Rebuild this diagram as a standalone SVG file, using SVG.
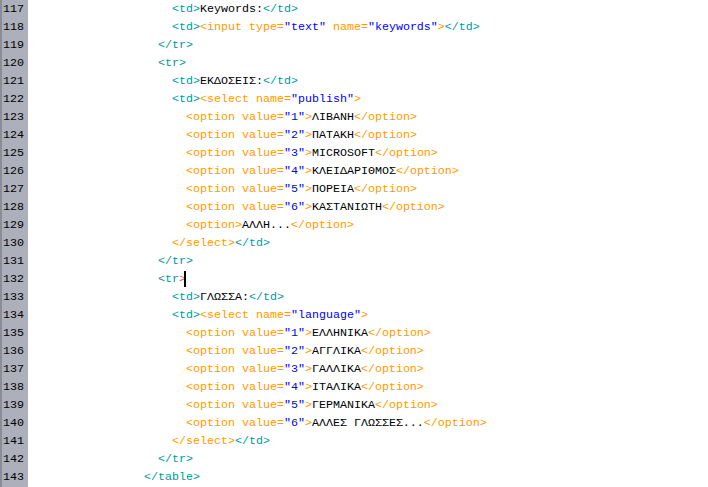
<svg xmlns="http://www.w3.org/2000/svg" width="708" height="487" viewBox="0 0 708 487">
<style>
text{font-family:"Liberation Mono","Courier New",monospace;font-size:11.67px;white-space:pre}
.n{fill:#000}
.t{fill:#009a9a}
.o{fill:#ff9900}
.b{fill:#0000ff}
.k{fill:#000}
.r{fill:#ee5555}
</style>
<rect x="0" y="0" width="708" height="487" fill="#ffffff"/>
<g id="gutter">
<rect x="0" y="0" width="28" height="487" fill="#adafbb"/>
<rect x="0" y="0" width="2" height="487" fill="#8a8c96"/>
<g class="n">
<text x="3" y="12">117</text>
<text x="3" y="30">118</text>
<text x="3" y="48">119</text>
<text x="3" y="66">120</text>
<text x="3" y="84">121</text>
<text x="3" y="102">122</text>
<text x="3" y="120">123</text>
<text x="3" y="138">124</text>
<text x="3" y="156">125</text>
<text x="3" y="174">126</text>
<text x="3" y="192">127</text>
<text x="3" y="210">128</text>
<text x="3" y="228">129</text>
<text x="3" y="246">130</text>
<text x="3" y="264">131</text>
<text x="3" y="282">132</text>
<text x="3" y="300">133</text>
<text x="3" y="318">134</text>
<text x="3" y="336">135</text>
<text x="3" y="354">136</text>
<text x="3" y="372">137</text>
<text x="3" y="390">138</text>
<text x="3" y="408">139</text>
<text x="3" y="426">140</text>
<text x="3" y="444">141</text>
<text x="3" y="462">142</text>
<text x="3" y="480">143</text>
</g>
</g>
<g id="code" xml:space="preserve">
<text x="172" y="12"><tspan class="t">&lt;td&gt;</tspan><tspan class="k">Keywords:</tspan><tspan class="t">&lt;/td&gt;</tspan></text>
<text x="172" y="30"><tspan class="t">&lt;td&gt;</tspan><tspan class="o">&lt;input type=</tspan><tspan class="b">"text"</tspan><tspan class="o"> name=</tspan><tspan class="b">"keywords"</tspan><tspan class="o">&gt;</tspan><tspan class="t">&lt;/td&gt;</tspan></text>
<text x="158" y="48" class="t">&lt;/tr&gt;</text>
<text x="158" y="66" class="t">&lt;tr&gt;</text>
<text x="172" y="84"><tspan class="t">&lt;td&gt;</tspan><tspan class="k">ΕΚΔΟΣΕΙΣ:</tspan><tspan class="t">&lt;/td&gt;</tspan></text>
<text x="172" y="102"><tspan class="t">&lt;td&gt;</tspan><tspan class="o">&lt;select name=</tspan><tspan class="b">"publish"</tspan><tspan class="o">&gt;</tspan></text>
<text x="186" y="120"><tspan class="o">&lt;option value=</tspan><tspan class="b">"1"</tspan><tspan class="o">&gt;</tspan><tspan class="k">ΛΙΒΑΝΗ</tspan><tspan class="o">&lt;/option&gt;</tspan></text>
<text x="186" y="138"><tspan class="o">&lt;option value=</tspan><tspan class="b">"2"</tspan><tspan class="o">&gt;</tspan><tspan class="k">ΠΑΤΑΚΗ</tspan><tspan class="o">&lt;/option&gt;</tspan></text>
<text x="186" y="156"><tspan class="o">&lt;option value=</tspan><tspan class="b">"3"</tspan><tspan class="o">&gt;</tspan><tspan class="k">MICROSOFT</tspan><tspan class="o">&lt;/option&gt;</tspan></text>
<text x="186" y="174"><tspan class="o">&lt;option value=</tspan><tspan class="b">"4"</tspan><tspan class="o">&gt;</tspan><tspan class="k">ΚΛΕΙΔΑΡΙΘΜΟΣ</tspan><tspan class="o">&lt;/option&gt;</tspan></text>
<text x="186" y="192"><tspan class="o">&lt;option value=</tspan><tspan class="b">"5"</tspan><tspan class="o">&gt;</tspan><tspan class="k">ΠΟΡΕΙΑ</tspan><tspan class="o">&lt;/option&gt;</tspan></text>
<text x="186" y="210"><tspan class="o">&lt;option value=</tspan><tspan class="b">"6"</tspan><tspan class="o">&gt;</tspan><tspan class="k">ΚΑΣΤΑΝΙΩΤΗ</tspan><tspan class="o">&lt;/option&gt;</tspan></text>
<text x="186" y="228"><tspan class="o">&lt;option&gt;</tspan><tspan class="k">ΑΛΛΗ...</tspan><tspan class="o">&lt;/option&gt;</tspan></text>
<text x="172" y="246"><tspan class="o">&lt;/select&gt;</tspan><tspan class="t">&lt;/td&gt;</tspan></text>
<text x="158" y="264" class="t">&lt;/tr&gt;</text>
<text x="158" y="282"><tspan class="t">&lt;tr</tspan><tspan class="r">&gt;</tspan></text>
<text x="172" y="300"><tspan class="t">&lt;td&gt;</tspan><tspan class="k">ΓΛΩΣΣΑ:</tspan><tspan class="t">&lt;/td&gt;</tspan></text>
<text x="172" y="318"><tspan class="t">&lt;td&gt;</tspan><tspan class="o">&lt;select name=</tspan><tspan class="b">"language"</tspan><tspan class="o">&gt;</tspan></text>
<text x="186" y="336"><tspan class="o">&lt;option value=</tspan><tspan class="b">"1"</tspan><tspan class="o">&gt;</tspan><tspan class="k">ΕΛΛΗΝΙΚΑ</tspan><tspan class="o">&lt;/option&gt;</tspan></text>
<text x="186" y="354"><tspan class="o">&lt;option value=</tspan><tspan class="b">"2"</tspan><tspan class="o">&gt;</tspan><tspan class="k">ΑΓΓΛΙΚΑ</tspan><tspan class="o">&lt;/option&gt;</tspan></text>
<text x="186" y="372"><tspan class="o">&lt;option value=</tspan><tspan class="b">"3"</tspan><tspan class="o">&gt;</tspan><tspan class="k">ΓΑΛΛΙΚΑ</tspan><tspan class="o">&lt;/option&gt;</tspan></text>
<text x="186" y="390"><tspan class="o">&lt;option value=</tspan><tspan class="b">"4"</tspan><tspan class="o">&gt;</tspan><tspan class="k">ΙΤΑΛΙΚΑ</tspan><tspan class="o">&lt;/option&gt;</tspan></text>
<text x="186" y="408"><tspan class="o">&lt;option value=</tspan><tspan class="b">"5"</tspan><tspan class="o">&gt;</tspan><tspan class="k">ΓΕΡΜΑΝΙΚΑ</tspan><tspan class="o">&lt;/option&gt;</tspan></text>
<text x="186" y="426"><tspan class="o">&lt;option value=</tspan><tspan class="b">"6"</tspan><tspan class="o">&gt;</tspan><tspan class="k">ΑΛΛΕΣ ΓΛΩΣΣΕΣ...</tspan><tspan class="o">&lt;/option&gt;</tspan></text>
<text x="172" y="444"><tspan class="o">&lt;/select&gt;</tspan><tspan class="t">&lt;/td&gt;</tspan></text>
<text x="158" y="462" class="t">&lt;/tr&gt;</text>
<text x="144" y="480" class="t">&lt;/table&gt;</text>
</g>
<rect id="cursor" x="184" y="271" width="2" height="16" fill="#000"/>
</svg>
